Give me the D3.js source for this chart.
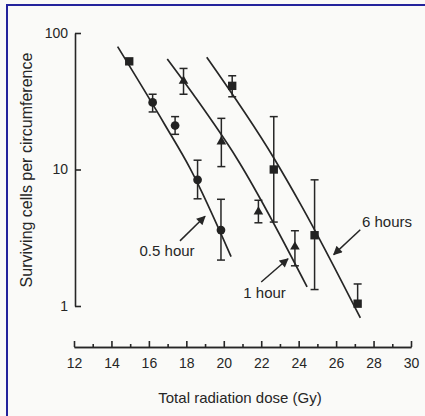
<html>
<head>
<style>
body { margin: 0; background: #fafaf8; }
svg { display: block; }
text { font-family: 'Liberation Sans', Arial, Helvetica, sans-serif; fill: #262626; }
</style>
</head>
<body>

<svg></svg>

<script src="https://d3js.org/d3.v7.min.js"></script>
<script>

const inkColor = '#262626';
const frameColor = '#23239c';

const fullWidth = 425;
const fullHeight = 416;

// measured points: [dose (Gy), surviving cells, lower error, upper error]
const firstPoint = [[14.95, 62]];
const halfHourPoints = [
    [16.2, 31, 26.4, 35.6],
    [17.4, 21, 18.1, 24.4],
    [18.6, 8.4, 6.1, 11.7],
    [19.85, 3.6, 2.17, 6.05],
];
const oneHourPoints = [
    [17.85, 44.5, 35.6, 55],
    [19.87, 16, 10.5, 23.7],
    [21.85, 4.9, 4.07, 5.95],
    [23.8, 2.72, 1.97, 3.56],
];
const sixHourPoints = [
    [20.45, 41, 34.1, 48.6],
    [22.67, 10, 4.12, 24.4],
    [24.85, 3.3, 1.32, 8.4],
    [27.15, 1.04, 1.04, 1.45],
];

// fitted survival curves: [dose, cells]
const halfHourFit = [[14.33, 79.4], [16.86, 21.2], [18.2, 10.2], [20.39, 2.3]];
const oneHourFit = [[16.98, 64.5], [18.46, 34.1], [20.69, 12.1], [24.45, 1.38]];
const sixHourFit = [[19.09, 66.4], [22.68, 12.1], [24.18, 5.33], [27.29, 0.82]];

// curve labels: text, label anchor [dose, cells], arrow tail, arrow head
const curveLabels = ['0.5 hour', '1 hour', '6 hours'];
const labelAnchors = [[16.97, 2.32], [22.18, 1.146], [28.72, 3.79]];
const arrowTails = [[17.66, 3.0], [22.0, 1.5], [27.29, 3.62]];
const arrowHeads = [[19.0, 4.54], [23.43, 2.22], [25.87, 2.38]];

const yTicks = [1, 10, 100];
const xMajorTicks = [12, 14, 16, 18, 20, 22, 24, 26, 28, 30];
const xMinorTicks = [13, 15, 17, 19, 21, 23, 25, 27, 29];

const x = d3.scaleLinear().domain([12, 30]).range([74, 411]);
const y = d3.scaleLog().domain([1, 100]).range([306, 33]);

const svg = d3.select('svg')
    .attr('width', fullWidth)
    .attr('height', fullHeight);

svg.append('defs').append('marker')
    .attr('id', 'arrowhead')
    .attr('viewBox', '0 0 10 10')
    .attr('refX', 9)
    .attr('refY', 5)
    .attr('markerWidth', 10)
    .attr('markerHeight', 9)
    .attr('markerUnits', 'userSpaceOnUse')
    .attr('orient', 'auto')
    .append('path')
    .attr('d', 'M0,0 L10,5 L0,10 Z')
    .attr('fill', inkColor);

// blue frame of the scan (top and left edge only)
svg.append('path')
    .attr('d', `M7,${fullHeight} V5 H${fullWidth}`)
    .attr('fill', 'none')
    .attr('stroke', frameColor)
    .attr('stroke-width', 2);

// y axis
const yAxis = svg.append('g')
    .attr('transform', 'translate(75,0)')
    .call(d3.axisLeft(y)
        .tickValues(yTicks)
        .tickFormat(d3.format('d'))
        .tickSizeInner(-6)
        .tickSizeOuter(0)
        .tickPadding(7));

// x axis
const xAxis = svg.append('g')
    .attr('transform', 'translate(0,347)')
    .call(d3.axisBottom(x)
        .tickValues(xMajorTicks)
        .tickSizeInner(-6)
        .tickSizeOuter(0)
        .tickPadding(11));

const xMinor = svg.append('g')
    .attr('transform', 'translate(0,347)')
    .call(d3.axisBottom(x)
        .tickValues(xMinorTicks)
        .tickFormat('')
        .tickSizeInner(-3)
        .tickSizeOuter(0));

[yAxis, xAxis, xMinor].forEach(a => {
    a.selectAll('path, line').attr('stroke', inkColor).attr('stroke-width', 1.6);
    a.selectAll('text')
        .style('font-size', '14px')
        .attr('fill', '#262626')
        .attr('font-family', null);
});

svg.append('text')
    .attr('x', 240)
    .attr('y', 403)
    .attr('text-anchor', 'middle')
    .style('font-size', '15px')
    .text('Total radiation dose (Gy)');

svg.append('text')
    .attr('transform', 'translate(32,170) rotate(-90)')
    .attr('text-anchor', 'middle')
    .style('font-size', '16px')
    .text('Surviving cells per circumference');

// fitted curves
const fitLine = d3.line()
    .x(d => x(d[0]))
    .y(d => y(d[1]))
    .curve(d3.curveMonotoneX);

svg.append('g').selectAll('path')
    .data([halfHourFit, oneHourFit, sixHourFit])
    .join('path')
    .attr('d', fitLine)
    .attr('fill', 'none')
    .attr('stroke', inkColor)
    .attr('stroke-width', 1.7);

// error bars
const allPoints = [...halfHourPoints, ...oneHourPoints, ...sixHourPoints];
const errors = svg.append('g')
    .attr('stroke', inkColor)
    .attr('stroke-width', 1.5)
    .selectAll('g')
    .data(allPoints)
    .join('g');

errors.append('line')
    .attr('x1', d => x(d[0]))
    .attr('x2', d => x(d[0]))
    .attr('y1', d => y(d[2]))
    .attr('y2', d => y(d[3]));

errors.append('line')
    .attr('x1', d => x(d[0]) - 4)
    .attr('x2', d => x(d[0]) + 4)
    .attr('y1', d => y(d[3]))
    .attr('y2', d => y(d[3]));

errors.filter(d => d[2] < d[1]).append('line')
    .attr('x1', d => x(d[0]) - 4)
    .attr('x2', d => x(d[0]) + 4)
    .attr('y1', d => y(d[2]))
    .attr('y2', d => y(d[2]));

// markers
function drawMarkers(data, symbolType, size) {
    svg.append('g').selectAll('path')
        .data(data)
        .join('path')
        .attr('transform', d => `translate(${x(d[0])},${y(d[1])})`)
        .attr('d', d3.symbol().type(symbolType).size(size))
        .attr('fill', '#222');
}

drawMarkers(firstPoint, d3.symbolSquare, 70);
drawMarkers(halfHourPoints, d3.symbolCircle, 60);
drawMarkers(oneHourPoints, d3.symbolTriangle, 40);
drawMarkers(sixHourPoints, d3.symbolSquare, 70);

// curve labels with arrows
svg.append('g').selectAll('line')
    .data(curveLabels)
    .join('line')
    .attr('x1', (d, i) => x(arrowTails[i][0]))
    .attr('y1', (d, i) => y(arrowTails[i][1]))
    .attr('x2', (d, i) => x(arrowHeads[i][0]))
    .attr('y2', (d, i) => y(arrowHeads[i][1]))
    .attr('stroke', inkColor)
    .attr('stroke-width', 1.5)
    .attr('marker-end', 'url(#arrowhead)');

svg.append('g').selectAll('text')
    .data(curveLabels)
    .join('text')
    .attr('x', (d, i) => x(labelAnchors[i][0]))
    .attr('y', (d, i) => y(labelAnchors[i][1]))
    .attr('text-anchor', 'middle')
    .style('font-size', '15px')
    .text(d => d);

</script>
</body>
</html>
